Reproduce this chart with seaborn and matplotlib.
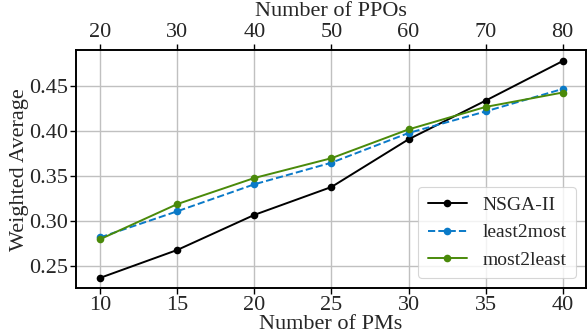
import matplotlib
matplotlib.use("Agg")
import matplotlib.pyplot as plt
import seaborn as sns
import pandas as pd

pms = [10, 15, 20, 25, 30, 35, 40]
ppo_ticks = [20, 30, 40, 50, 60, 70, 80]
nsga = [0.237, 0.268, 0.307, 0.338, 0.391, 0.434, 0.478]
least2most = [0.282, 0.311, 0.341, 0.365, 0.398, 0.422, 0.447]
most2least = [0.280, 0.319, 0.348, 0.370, 0.402, 0.427, 0.443]
series_names = ["NSGA-II", "least2most", "most2least"]
colors = ["#000000", "#0a7ac8", "#4a8a0a"]

sns.set_theme(style="whitegrid")
plt.rcParams['font.family'] = ['Liberation Serif', 'DejaVu Serif']
plt.rcParams['mathtext.fontset'] = 'stix'

df = pd.DataFrame({
    "PMs": pms * 3,
    "val": nsga + least2most + most2least,
    "series": [s for s in series_names for _ in pms],
})

fig, ax = plt.subplots(figsize=(5.87, 3.35), dpi=100)
fig.subplots_adjust(left=0.13, right=0.998, top=0.85, bottom=0.14)

styles = ["-", "--", "-"]
for name, c, ls in zip(series_names, colors, styles):
    sub = df[df["series"] == name]
    sns.lineplot(data=sub, x="PMs", y="val", ax=ax, color=c, linestyle=ls,
                 marker="o", markersize=5.5, markeredgewidth=0, linewidth=1.4,
                 label=name)

ax.set_xlim(8.45, 41.5)
ax.set_ylim(0.2256, 0.49)
ax.set_xticks(pms)
ax.set_yticks([0.25, 0.30, 0.35, 0.40, 0.45])
ax.set_yticklabels(["0.25", "0.30", "0.35", "0.40", "0.45"])
ax.set_xlabel("Number of PMs", fontsize=16, labelpad=0)
ax.set_ylabel("Weighted Average", fontsize=16)
ax.yaxis.set_label_coords(-0.092, 0.5)
ax.tick_params(axis='both', labelsize=16, length=4, width=1, color='black', pad=2, direction='out')
ax.tick_params(axis='both', which='major', bottom=True, left=True)
for s in ax.spines.values():
    s.set_color('black')
    s.set_linewidth(1.2)
ax.grid(True, color="#c0c0c0", linewidth=1)
ax.set_facecolor("white")

ax2 = ax.twiny()
ax2.set_xlim(8.45 * 2, 41.5 * 2)
ax2.set_xticks(ppo_ticks)
ax2.set_xlabel("Number of PPOs", fontsize=16, labelpad=5)
ax2.tick_params(axis='x', labelsize=16, length=4, width=1, color='black', pad=2, top=True)
ax2.grid(False)
for s in ax2.spines.values():
    s.set_color('black')
    s.set_linewidth(1.2)

leg = ax.legend(loc="lower right", fontsize=14, frameon=True, fancybox=True,
                framealpha=0.8, edgecolor="#cccccc", handlelength=2.0,
                borderpad=0.5, labelspacing=0.5)
leg.get_frame().set_linewidth(0.8)

fig.savefig("out.png", dpi=100)
